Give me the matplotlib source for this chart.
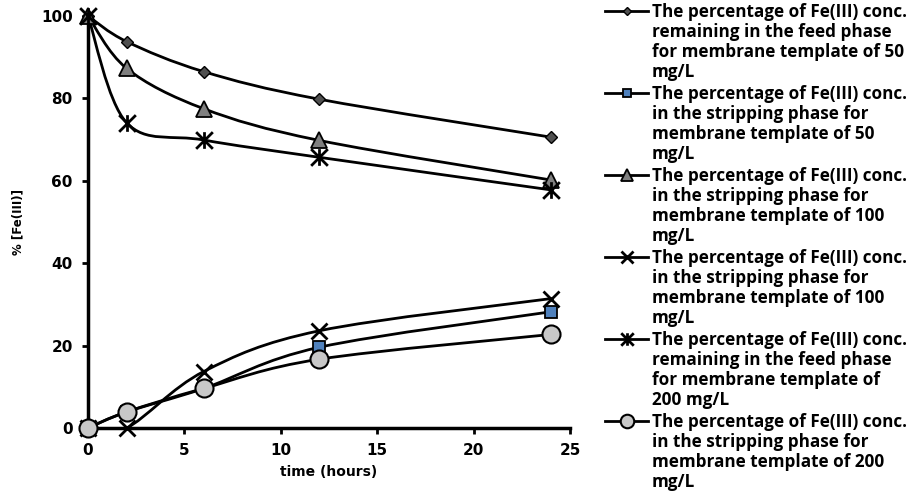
import numpy as np
import matplotlib
matplotlib.use('Agg')
import matplotlib.pyplot as plt
from matplotlib.path import Path
from matplotlib.patches import PathPatch
from matplotlib.lines import Line2D

# sampling times (hours)
time_h = [0, 2, 6, 12, 24]

feed_50 = [100, 93.8, 86.5, 79.8, 70.6]
strip_50 = [0, 3.9, 9.6, 19.6, 28.2]
strip_100_tri = [100, 87.3, 77.5, 69.8, 60.2]
strip_100_x = [0, 0, 13.7, 23.6, 31.4]
feed_200 = [100, 74.1, 69.9, 65.7, 57.8]
strip_200 = [0, 3.9, 9.6, 16.7, 22.7]

labels = [
    "The percentage of Fe(III) conc.\nremaining in the feed phase\nfor membrane template of 50\nmg/L",
    "The percentage of Fe(III) conc.\nin the stripping phase for\nmembrane template of 50\nmg/L",
    "The percentage of Fe(III) conc.\nin the stripping phase for\nmembrane template of 100\nmg/L",
    "The percentage of Fe(III) conc.\nin the stripping phase for\nmembrane template of 100\nmg/L",
    "The percentage of Fe(III) conc.\nremaining in the feed phase\nfor membrane template of\n200 mg/L",
    "The percentage of Fe(III) conc.\nin the stripping phase for\nmembrane template of 200\nmg/L",
]

# asterisk marker like Excel's "star"
star = Path([(0, -1), (0, 1), (-1, -1), (1, 1), (-1, 1), (1, -1)],
            [Path.MOVETO, Path.LINETO, Path.MOVETO, Path.LINETO, Path.MOVETO, Path.LINETO])

styles = [
    dict(marker='D', ms=6, mfc='#505050', mec='black', mew=1),
    dict(marker='s', ms=8, mfc='#4F81BD', mec='black', mew=1.3),
    dict(marker='^', ms=12, mfc='#7F7F7F', mec='black', mew=1.3),
    dict(marker='x', ms=11, mfc='none', mec='black', mew=2),
    dict(marker=star, ms=12, mfc='none', mec='black', mew=2),
    dict(marker='o', ms=13, mfc='#C8C8C8', mec='black', mew=1.5),
]
series = [feed_50, strip_50, strip_100_tri, strip_100_x, feed_200, strip_200]


def smooth_path(xs, ys):
    # Excel-like smoothed line: cubic Bezier segments through the points
    pts = np.column_stack([xs, ys]).astype(float)
    n = len(pts)
    verts = [pts[0]]
    codes = [Path.MOVETO]
    for i in range(n - 1):
        p0 = pts[i - 1] if i > 0 else pts[i]
        p1 = pts[i]
        p2 = pts[i + 1]
        p3 = pts[i + 2] if i + 2 < n else pts[i + 1]
        c1 = p1 + (p2 - p0) / 6.0
        c2 = p2 - (p3 - p1) / 6.0
        verts += [c1, c2, p2]
        codes += [Path.CURVE4] * 3
    return Path(verts, codes)


fig = plt.figure(figsize=(9.17, 5.0), dpi=100)
ax = fig.add_axes([88 / 917, 1 - 428 / 500, (570 - 88) / 917, (428 - 16) / 500])

for ys, st in zip(series, styles):
    ax.add_patch(PathPatch(smooth_path(time_h, ys), fill=False, ec='black', lw=2, zorder=2))
    ax.plot(time_h, ys, linestyle='none', clip_on=False, zorder=3, **st)

ax.set_xlim(0, 25)
ax.set_ylim(0, 100)
ax.set_xticks([0, 5, 10, 15, 20, 25])
ax.set_yticks([0, 20, 40, 60, 80, 100])
for s in ['top', 'right']:
    ax.spines[s].set_visible(False)
for s in ['left', 'bottom']:
    ax.spines[s].set_linewidth(2.5)
ax.tick_params(direction='out', length=4, width=2, pad=7)
for lab in ax.get_xticklabels() + ax.get_yticklabels():
    lab.set_fontweight('bold')
    lab.set_fontsize(11)
ax.set_xlabel('time (hours)', fontsize=10, fontweight='bold', labelpad=5)
ax.set_ylabel('% [Fe(III)]', fontsize=8.5, fontweight='bold', labelpad=12)

# legend drawn entry by entry, handle aligned to first line
top_y = 1 - 11 / 500
step = 82 / 500
for k, (lab, st) in enumerate(zip(labels, styles)):
    y = top_y - k * step
    fig.add_artist(Line2D([605 / 917, 648 / 917], [y, y], color='black', lw=2,
                          transform=fig.transFigure))
    fig.add_artist(Line2D([627 / 917], [y], transform=fig.transFigure, linestyle='none',
                          **dict(st, ms=st['ms'] * 0.75)))
    fig.text(652 / 917, y + 8 / 500, lab, fontsize=12.3, fontweight='bold',
             family=['Open Sans', 'DejaVu Sans'], va='top', ha='left', linespacing=1.14)

fig.savefig('out.png', dpi=100)
